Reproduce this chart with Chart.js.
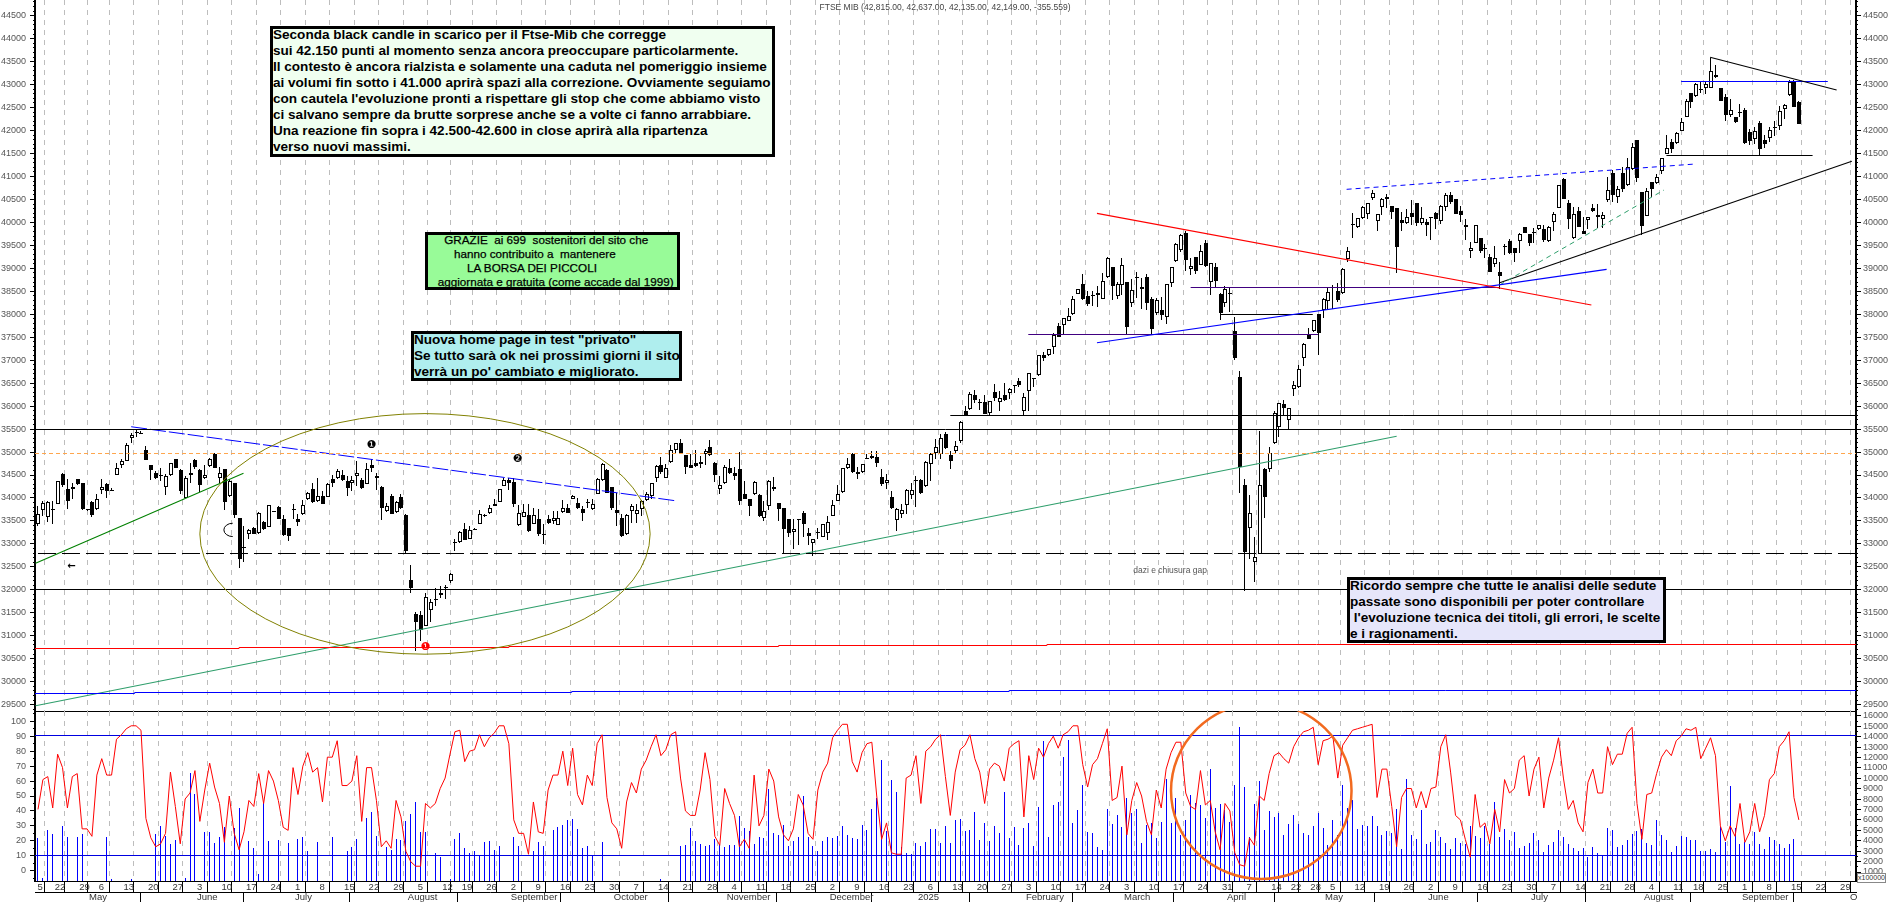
<!DOCTYPE html>
<html lang="it">
<head>
<meta charset="UTF-8">
<title>FTSE MIB</title>
<script src="https://cdn.jsdelivr.net/npm/chart.js"></script>
<style>
  html, body { margin: 0; padding: 0; background: #fff; overflow: hidden; }
  canvas { position: absolute; left: 0; }
  #priceChart { top: 0; }
  #oscChart { top: 711px; }
  .box { position: absolute; box-sizing: border-box; border: 3px solid #000; white-space: pre; color: #000;
         font-family: "Liberation Sans", Arial, sans-serif; font-weight: bold; z-index: 5; overflow: hidden; }
  .box > div { margin-top: -2px; }
  #box1 { left: 270px; top: 26px; width: 505px; height: 131px; background: #f0fff0; font-size: 13.55px; line-height: 16px; }
  #box2 { left: 425px; top: 232px; width: 255px; height: 58px; background: #98fb98; font-size: 11.7px; line-height: 14px; font-weight: normal; -webkit-text-stroke: .25px #000; }
  #box3 { left: 411px; top: 331px; width: 271px; height: 50px; background: #afeeee; font-size: 13.55px; line-height: 16px; }
  #box4 { left: 1347px; top: 577px; width: 319px; height: 66px; background: #e6e6fa; font-size: 13.55px; line-height: 16px; }
  #title { position: absolute; left: 0; width: 1890px; top: 2px; text-align: center; font: 8.5px "Liberation Sans", Arial, sans-serif; color: #444; z-index: 5; }
  #scaleNote { position: absolute; left: 1857px; top: 873px; width: 27px; height: 8px; border: 1px solid #888; background: #fff;
               font: 7px/8px "Liberation Sans", Arial, sans-serif; color: #333; text-align: center; z-index: 5; }
</style>
</head>
<body>
<div id="title">FTSE MIB (42,815.00, 42,637.00, 42,135.00, 42,149.00, -355.559)</div>
<canvas id="priceChart" width="1890" height="713"></canvas>
<canvas id="oscChart" width="1890" height="191"></canvas>
<div class="box" id="box1"><div>Seconda black candle in scarico per il Ftse-Mib che corregge
sui 42.150 punti al momento senza ancora preoccupare particolarmente.
Il contesto è ancora rialzista e solamente una caduta nel pomeriggio insieme
ai volumi fin sotto i 41.000 aprirà spazi alla correzione. Ovviamente seguiamo
con cautela l'evoluzione pronti a rispettare gli stop che come abbiamo visto
ci salvano sempre da brutte sorprese anche se a volte ci fanno arrabbiare.
Una reazione fin sopra i 42.500-42.600 in close aprirà alla ripartenza
verso nuovi massimi.</div></div>
<div class="box" id="box2"><div>     GRAZIE  ai 699  sostenitori del sito che
        hanno contribuito a  mantenere
            LA BORSA DEI PICCOLI
   aggiornata e gratuita (come accade dal 1999)</div></div>
<div class="box" id="box3"><div>Nuova home page in test "privato"
Se tutto sarà ok nei prossimi giorni il sito
verrà un po' cambiato e migliorato.</div></div>
<div class="box" id="box4"><div>Ricordo sempre che tutte le analisi delle sedute
passate sono disponibili per poter controllare
 l'evoluzione tecnica dei titoli, gli errori, le scelte
e i ragionamenti.</div></div>
<div id="scaleNote">x100000</div>

<script>
// candles, one value per trading day (17 Apr 2024 on)
const opens = [
33430,33740,33595,33730,33875,34515,34205,34190,34405,34320,
33745,33915,33770,34175,34300,34175,34500,34720,34805,35310,
35420,35420,35035,34710,34550,34505,34245,34500,34855,34610,
34005,34535,34825,34600,34435,34695,34965,34435,34625,34045,
34320,33570,32920,33225,33355,33230,33485,33375,33710,33810,
33550,33340,33740,33550,33660,33970,34205,33935,34045,34030,
34420,34435,34500,34370,34335,34480,34385,34310,34710,34440,
34245,33720,34045,33705,34030,33625,32210,31470,31450,31220,
31565,31810,31885,32070,32195,33010,33050,33335,33115,33335,
33440,33640,33680,33835,33920,34260,34390,34355,33405,33590,
33625,33435,33550,33210,33535,33500,33415,33695,33790,33985,
33900,33770,33895,33755,34095,34385,34610,34240,33730,33570,
33210,33720,33660,33755,33955,34045,34440,34725,34435,34785,
35045,35190,34930,34710,34770,34730,34950,35115,34770,34205,
34320,34660,34550,34625,34095,33970,34080,34075,33570,33825,
34245,33900,33790,33535,33260,33515,33665,33245,33010,33270,
33160,33245,33610,33940,34130,34655,34955,34560,34565,34855,
34880,34900,34465,34335,34030,33520,33660,33840,34075,34365,
34385,34260,34745,34970,34950,35385,34940,35030,35240,
35894,35930,36242,36060,36090,35843,36300,36097,36242,36280,36445,36547,35901,36322,36583,36678,37113,37106,37295,37745,37766,37861,37999,38441,
38650,38400,38425,38425,38325,38820,39020,38400,38645,38695,38250,38810,38585,38805,38330,38020,38090,37945,38690,39165,39400,39775,38980,39240,39080,39550,38695,39030,38440,38240,38455,
37635,36634,34282,33339,32614,32780,34623,34624,35190,35552,36046,35698,36380,36409,37040,37548,37643,38006,38093,38296,38601,38499,38470,39210,39933,39907,40088,40175,40538,40023,40342,40502,40350,40313,40052,39994,40197,40415,39994,40000,40088,40212,40038,40328,
40589,40510,40248,39893,39385,39559,39668,39443,39240,39095,38913,39472,39588,39436,39588,39893,39748,39777,39849,39856,39603,40016,40321,40945,40415,39661,40256,39806,40053,40314,40125,40082,40488,41076,40546,41069,40807,41163,41787,40655,40147,40880,40858,41112,41489,41743,41721,41997,42288,42810,42759,42883,42919,42933,43158,42919,42723,42346,42295,42385,42440,41961,41823,42164,41794,41831,42077,42106,42462,42767,43064,42614];

const highs = [
33830,33935,33935,33935,34370,34550,34405,34335,34420,34335,
33755,33930,34080,34405,34320,34225,34770,34855,35190,35420,
35480,35455,35130,34710,34585,34645,34515,34770,34855,34625,
34480,34770,34855,34640,34710,34875,34970,34680,34640,34405,
34320,33570,33390,33320,33370,33695,33500,33840,33715,33825,
33625,33340,33860,33645,33955,34130,34335,34440,34155,34320,
34495,34640,34610,34480,34480,34805,34440,34755,34840,34535,
34260,33900,34080,33935,34080,33645,32535,31510,31530,31930,
31795,32050,32075,32100,32360,33115,33285,33465,33390,33355,
33730,33660,33840,33970,34205,34440,34440,34440,33840,33860,
33860,33790,33755,33430,33625,33720,33720,33955,33860,34060,
34005,33825,33970,33970,34440,34755,34625,34245,34115,33645,
33660,33860,33860,33955,34130,34335,34710,34900,34730,35145,
35200,35275,34945,34950,35045,34915,35070,35255,34785,34480,
34710,34840,34680,35000,34370,33985,34370,34080,33935,34385,
34465,33900,33790,33535,33535,33550,33720,33355,33115,33355,
33440,33610,33955,34275,34660,34875,34970,34680,34745,34950,
35020,35020,34625,34515,34150,33790,33860,34190,34320,34480,
34405,34805,34970,35275,35385,35440,35020,35240,35675,
36003,36300,36351,36148,36242,36104,36482,36329,36511,36387,36446,36605,36293,36714,36590,37113,37186,37251,37585,37817,37926,38144,38405,38550,
38870,38515,38515,38615,38890,39240,39020,38710,39215,38695,38760,38915,38780,38875,38370,38345,38385,38660,39035,39545,39745,39810,39215,39240,39510,39615,39125,39110,38455,38615,38585,
37930,36764,34406,34065,33143,35465,34645,35103,35894,36060,36133,35952,36547,36895,37367,37694,37875,38006,38347,38564,38637,38673,39000,39471,40212,40103,40357,40415,40705,40175,40524,40618,40350,40313,40233,40284,40487,40415,40342,40067,40095,40233,40379,40633,
40669,40510,40357,40067,39566,39937,39668,39530,39312,39494,39145,39523,39632,39436,39762,39907,39748,39871,39937,39944,39922,40234,40814,40959,40488,40343,40343,40111,40125,40401,40401,40227,40981,41141,40800,41213,41395,41736,41787,40655,40742,40887,41054,41402,41903,41808,41961,42273,42679,42810,43028,43064,43071,43572,43427,42919,42788,42679,42295,42570,42483,42026,42084,42208,41903,42084,42215,42534,42578,43100,43100,42637];

const lows = [
33400,33610,33480,33430,33860,34245,33770,33970,34275,33740,
33710,33590,33740,34080,34000,34145,34495,34660,34805,35190,
35335,35385,34820,34390,34405,34370,34060,34480,34655,34080,
34005,34320,34625,34130,34420,34680,34645,34335,33740,34030,
33570,32480,32610,33100,33225,33225,33305,33365,33690,33550,
33175,33065,33535,33390,33625,33955,33885,33915,33865,34030,
34245,34420,34365,34045,34155,34260,34190,34295,34565,34175,
33520,33695,33645,33680,33770,32775,31930,30675,30890,31220,
31305,31650,31820,31800,32145,32850,33030,33075,33100,33300,
33430,33595,33660,33815,33915,34255,34175,33805,33390,33575,
33260,33430,33175,32995,33430,33430,33415,33680,33665,33970,
33755,33500,33790,33740,34080,34370,34100,33740,33390,33140,
33190,33450,33450,33610,33935,33985,34350,34515,34435,34770,
34985,34950,34515,34660,34680,34650,34710,34915,34350,34080,
34300,34520,34390,33840,33970,33610,34060,33595,33495,33740,
34155,33500,32790,33140,32885,32980,33140,32980,32740,33115,
33140,33090,33610,33935,34115,34640,34550,34420,34535,34855,
34840,34675,34260,34205,33770,33285,33570,33645,33985,33800,
34080,34245,34370,34840,34855,35075,34625,34970,35190,
35785,35916,36075,35916,35829,35785,36119,35894,36119,36163,36280,36424,35807,35901,36424,36663,36983,37091,37135,37512,37549,37846,37984,38441,
38310,38180,38180,38150,38325,38795,38310,38325,38410,37550,38165,38345,38105,38090,37550,37985,37875,37790,38600,39145,39365,38950,38855,38875,39070,39035,38420,38600,37875,38150,38055,
37004,34101,31982,32679,32178,32780,33557,34573,35175,35335,35806,35502,36220,36401,36880,37454,37621,37113,37911,38107,38107,38274,38441,39145,39653,39871,40067,40067,40487,39820,40161,40306,40067,38891,39813,39965,39943,39922,39943,39704,39617,39849,39965,40255,
40401,40183,40016,39617,39218,39544,39327,39218,38927,39037,38543,39290,39312,39131,39327,39762,39494,39544,39835,39581,39581,39820,40306,40517,39857,39646,39893,39741,39849,40227,39871,39886,40452,40452,40430,40669,40792,41141,40887,39726,40147,40546,40836,41054,41489,41518,41707,41997,42288,42491,42737,42810,42796,42933,43137,42650,42215,42302,42171,42302,41714,41693,41707,41460,41627,41751,41881,42012,42244,42752,42505,42135];

const closes = [
33645,33885,33920,33735,34370,34275,33935,34245,34300,33755,
33730,33625,33985,34245,34155,34155,34660,34805,35160,35370,
35430,35400,34825,34610,34440,34480,34480,34770,34655,34155,
34440,34505,34680,34275,34500,34855,34645,34550,33915,34370,
33630,32665,32925,33305,33225,33680,33320,33840,33695,33550,
33190,33175,33745,33480,33850,34115,33915,34045,33865,34305,
34320,34585,34390,34225,34390,34550,34210,34625,34645,34480,
33790,33825,33660,33920,33775,32850,32035,31305,31130,31835,
31745,31785,31940,32030,32340,33045,33260,33090,33305,33305,
33660,33610,33790,33875,34205,34390,34325,33865,33680,33705,
33285,33625,33210,33190,33465,33570,33570,33790,33680,34045,
33790,33680,33900,33865,34420,34745,34115,33790,33680,33175,
33625,33825,33740,33935,34080,34320,34695,34565,34660,35045,
35200,34970,34680,34660,34695,34790,35030,34940,34495,34290,
34680,34535,34480,33935,33970,33825,34355,33610,33720,34370,
34205,33770,33320,33245,33320,33510,33430,33175,33115,33245,
33430,33480,33840,34095,34645,34745,34565,34520,34745,34860,
34915,34770,34300,34390,33790,33770,33740,34175,34165,34395,
34115,34785,34950,35110,35305,35080,34805,35140,35660,
35807,36257,36133,36070,35829,36105,36184,36170,36133,36366,36445,36460,36206,36714,36590,37106,37055,37237,37549,37512,37911,37970,38325,38543,
38330,38225,38390,38470,38725,39225,38625,38650,39065,37730,38520,38780,38555,38240,37685,38310,37990,38650,39030,39520,39725,39180,39045,38950,39375,39060,39110,38730,38035,38540,38435,
37055,34667,32831,33666,32722,34275,34029,34986,35843,36060,35959,35952,36452,36801,37345,37454,37875,37599,38325,38477,38564,38310,38978,39370,39940,40088,40342,40415,40647,40175,40509,40546,40226,39471,39994,40125,40125,39994,40088,39950,40095,40081,40364,40589,
40451,40183,40161,39937,39436,39937,39385,39428,38927,39218,38840,39479,39327,39327,39740,39777,39559,39770,39937,39617,39907,40176,40807,40517,40081,40176,39907,39755,40125,40256,40169,40154,40698,40596,40720,40727,41213,41634,40974,39922,40691,40735,40996,41402,41620,41591,41939,42179,42650,42621,43006,42890,43006,43303,43216,42650,42346,42440,42193,42378,41736,41780,41983,41605,41707,42005,42048,42433,42563,43064,42505,42149];

// oscillator in the lower panel (left scale)
const oscValues = [
41,61,63,42,78,69,42,63,65,28,28,23,64,75,64,64,88,91,95,97,
97,94,35,22,16,18,25,66,43,18,48,52,67,33,54,72,56,45,19,50,
25,14,26,47,43,65,45,67,60,47,29,27,69,51,70,79,66,69,46,76,
76,87,57,57,60,77,33,69,69,47,16,20,15,47,36,13,6,3,3,45,
42,45,55,62,78,93,94,73,80,81,91,83,89,92,97,97,85,34,25,25,
11,46,26,25,54,64,64,80,57,82,51,44,64,57,85,91,49,32,28,15,
46,59,52,68,74,83,91,77,81,91,93,62,40,37,37,54,79,61,23,17,
55,45,37,16,21,15,64,30,37,68,60,36,24,20,28,51,44,25,21,54,
66,72,89,94,98,98,73,66,79,85,86,50,21,32,12,11,11,62,64,77,
45,80,83,88,91,63,37,66,81,84,91,75,66,45,68,72,70,60,82,85,
87,36,77,61,82,76,85,90,82,91,93,97,97,71,56,71,75,85,95,47,
49,70,24,47,59,50,33,24,54,42,68,79,86,86,52,43,41,67,44,47,
26,14,45,40,12,4,3,22,17,50,47,65,77,79,75,72,83,89,93,94,
96,71,87,88,90,62,84,89,94,95,96,97,98,49,68,68,43,16,49,55,
55,42,53,42,55,56,83,91,66,37,34,21,9,51,29,32,18,41,26,61,
52,55,74,77,50,68,76,42,62,74,89,62,41,47,32,26,59,68,52,52,
83,71,78,78,92,96,45,21,51,52,65,76,81,77,87,90,95,94,96,75,
82,89,77,30,20,30,23,45,19,26,45,26,37,61,65,83,87,93,49,34];

// volume bars in the lower panel (right scale), 0 where no bar is drawn
const volumes = [
4300,390,5040,4650,0,5420,4400,0,4400,4650,
0,0,0,0,4400,300,0,0,0,330,
0,0,0,0,4650,5420,4460,3690,4080,0,
420,10550,8500,0,4880,4880,3760,4400,5360,0,
5200,7190,0,3980,3280,840,7760,3980,0,4080,
0,3820,0,4170,4400,3050,0,3880,0,0,
4400,0,0,3050,3440,4170,0,6220,6800,4460,
0,3440,3120,4170,4080,5940,6580,7760,4850,4850,
0,2830,2470,0,300,4170,4780,3310,2860,3050,
2600,3920,4010,3120,3530,0,0,4400,3530,0,
0,3020,3920,3530,0,5040,5330,5520,6000,6100,
5130,3310,3530,2600,0,3880,0,0,0,0,
0,0,0,0,0,0,0,300,0,0,
0,3530,3600,5260,3980,3690,3530,3630,4170,3720,
3400,3630,3630,6380,5230,4940,3720,4400,4300,9010,
4720,4590,5520,3500,3980,4400,8310,4400,3530,3020,
3980,4400,4300,4460,5420,4560,4300,4170,5520,5040,
7060,8080,11770,4970,9850,8720,3440,2860,2730,3760,
3500,3880,5130,5130,3820,5420,3760,6000,6100,4940,
5040,6770,4080,5680,3980,5420,4780,8690,4300,5330,
3600,5230,5710,3500,7220,13600,4400,7440,7730,12090,
13690,5680,6960,9370,4850,4750,3440,3120,7060,5610,
6480,5360,8080,6640,7060,3760,5520,5680,4300,5840,
9910,5680,8080,4560,6000,8400,7670,7440,6160,10870,
7120,7540,6960,5840,9370,14910,9140,4400,7540,9750,
5040,6870,6260,6640,4560,5610,6480,5610,4720,4560,
5420,6640,5230,3600,6000,4560,9370,7190,7920,5130,
5520,5420,6380,5420,4560,4940,4720,7060,3210,9910,
4560,4170,6960,3690,3880,5040,4370,3790,3210,4270,
3790,3660,5420,4460,4270,5420,3690,7760,4370,5130,
4080,4850,3310,3500,3790,4750,4080,2920,3600,3880,
5040,4370,3690,3310,3020,3310,2470,3400,2790,2540,
5230,5040,3400,3600,4080,4650,4940,5130,3790,3600,
6000,4560,4080,2920,3500,4460,4400,4080,4080,3020,
3020,3210,2920,5360,3880,9270,5230,3690,3880,3690,
4850,3690,3210,4370,4080,3690,3310,3690,4170,0];

// axis ticks and labels
const priceTicks = [44500,44000,43500,43000,42500,42000,41500,41000,40500,40000,39500,39000,38500,38000,37500,37000,36500,36000,35500,35000,34500,34000,33500,33000,32500,32000,31500,31000,30500,30000,29500];
const oscTicks = [100,90,80,70,60,50,40,30,20,10,0];
const volTicks = [16000,15000,14000,13000,12000,11000,10000,9000,8000,7000,6000,5000,4000,3000,2000,1000];
const weekIdx = [-0.5,3,8,12,17,22,27,32,37,42,47,52,57,62,67,72,77,82,86,91,96,101,106,111,116,121,126,131,136,141,146,151,156,161,166,171,176,181,186,191,196,201,206,211,216,221,226,231,236,241,246,251,255,259,263,268,273,278,283,288,293,298,303,308,313,318,323,328,333,337,342,347,352,357,362,367];
const weekLabels = ['5','22','29','6','13','20','27','3','10','17','24','1','8','15','22','29','5','12','19','26','2','9','16','23','30','7','14','21','28','4','11','18','25','2','9','16','23','6','13','20','27','3','10','17','24','3','10','17','24','31','7','14','22','28','5','12','19','26','2','9','16','23','30','7','14','21','28','4','11','18','25','1','8','15','22','29'];
const monthIdx = [10,32,52,75,96,117,140,161,179,201,221,242,262,283,304,327,347,369];
const monthLabels = ['May','June','July','August','September','October','November','December','2025','February','March','April','May','June','July','August','September','O'];

const xMin = -0.61, xMax = 370.65;
const priceMin = 29362, priceMax = 44842;

// drawn trend lines and levels: x in trading days, y in price
const trendLines = [
  {x:[xMin,xMax], y:[35480,35480], color:'#000', snap:true},
  {x:[186,xMax], y:[35785,35785], color:'#000', snap:true},
  {x:[xMin,xMax], y:[34964,34964], color:'#ffa64d', dash:[4,3], snap:true},
  {x:[0,xMax], y:[32790,32790], color:'#000', dash:[18,6], snap:true},
  {x:[xMin,xMax], y:[32008,32008], color:'#000', snap:true},
  {x:[xMin,41,96,151,205.7,315.6,xMax], y:[30703,30725,30747,30769,30783,30805,30805], color:'#ff0000', stepped:'after', snap:true},
  {x:[xMin,19.7,108.8,198,287,xMax], y:[29725,29740,29762,29783,29805,29805], color:'#0000ff', stepped:'after', snap:true},
  {x:[-0.5,41.9], y:[32580,34537], color:'#008000', width:1.1},
  {x:[-0.5,277], y:[29477,35343], color:'#2e9e6b', width:1.1},
  {x:[19,130.3], y:[35551,33935], color:'#0000ff', width:1, dash:[16,3]},
  {x:[215.9,316.7], y:[40197,38202], color:'#ff0000', width:1.1},
  {x:[215.9,319.8], y:[37381,38978], color:'#0000ff', width:1.1},
  {x:[201.9,261], y:[37550,37550], color:'#400080', snap:true},
  {x:[235,297.9], y:[38586,38586], color:'#400080', snap:true},
  {x:[241,259.9], y:[37998,37998], color:'#000', snap:true},
  {x:[266.8,338], y:[40720,41272], color:'#0000ff', width:1, dash:[5,4]},
  {x:[298,331.5], y:[38637,40705], color:'#2e9e6b', width:1, dash:[5,4]},
  {x:[298,369.8], y:[38688,41330], color:'#000', width:1.1},
  {x:[340.9,366.7], y:[43594,42883], color:'#000', width:1.1},
  {x:[335,364.9], y:[43071,43071], color:'#0000ff', snap:true},
  {x:[332,361.8], y:[41460,41460], color:'#000', snap:true}
];
const oscLevels = [90.5, 10.3];

// small marks on the price panel
const priceEllipses = [
  {cx:78.9, cy:33218, rx:45.9, ry:2619, color:'#808000', width:1, from:0, to:Math.PI*2},
  {cx:39.7, cy:33305, rx:1.8, ry:145, color:'#000', width:1, from:Math.PI/2, to:Math.PI*1.5}
];
const oscEllipses = [
  {cx:249.4, cy:53.5, rx:18.4, ry:59, color:'#f26a1f', width:2.5, from:0, to:Math.PI*2}
];
const priceNotes = [
  {text:'❶', x:68, y:35145, color:'#000', font:'11px "DejaVu Sans"'},
  {text:'❷', x:97.8, y:34841, color:'#000', font:'11px "DejaVu Sans"'},
  {text:'❶', x:79, y:30747, color:'#ff0000', font:'11px "DejaVu Sans"'},
  {text:'←', x:6.8, y:32500, color:'#000', font:'bold 10px "DejaVu Sans"'},
  {text:'dazi e chiusura gap', x:230.8, y:32410, color:'#555', font:'8.5px "Liberation Sans"'}
];

const labelFont = {family:'"Liberation Sans", Arial, sans-serif', size:9};

// snap bars and level lines to whole pixels, the original chart is not antialiased
const snapPlugin = {
  id: 'snap',
  beforeDatasetsDraw(chart) {
    chart.data.datasets.forEach((ds, i) => {
      const meta = chart.getDatasetMeta(i);
      if (meta.type === 'bar') {
        meta.data.forEach(el => {
          const cx = Math.floor(el.x);
          el.x = ds.barThickness % 2 ? cx + 0.5 : cx + 1;
          el.y = Math.round(el.y);
          el.base = Math.round(el.base);
          if (el.y === el.base) el.y -= 1;
        });
      } else if (ds.snap) {
        meta.data.forEach(el => { el.y = Math.floor(el.y) + 0.5; });
      }
    });
  }
};

// major and minor tick marks, chart.js only has one tick length
function axisMarks(axes) {
  return {
    id: 'axisMarks',
    afterDraw(chart) {
      const ctx = chart.ctx;
      ctx.save();
      ctx.strokeStyle = '#000';
      ctx.lineWidth = 1;
      axes.forEach(a => {
        const sc = chart.scales[a.id];
        const side = sc.position === 'left' ? -1 : 1;
        const x0 = side < 0 ? sc.right : sc.left;
        for (let v = Math.ceil(sc.min / a.minor) * a.minor; v <= sc.max; v += a.minor) {
          const y = Math.floor(sc.getPixelForValue(v)) + 0.5;
          const len = v % a.major === 0 ? 5 : 2;
          ctx.beginPath();
          ctx.moveTo(x0, y);
          ctx.lineTo(x0 + side * len, y);
          ctx.stroke();
        }
      });
      ctx.restore();
    }
  };
}

function ellipsePlugin(list, yId) {
  return {
    id: 'ellipses',
    afterDatasetsDraw(chart) {
      const ctx = chart.ctx, xs = chart.scales.x, ys = chart.scales[yId], area = chart.chartArea;
      ctx.save();
      ctx.beginPath();
      ctx.rect(area.left, area.top, area.right - area.left, area.bottom - area.top);
      ctx.clip();
      list.forEach(e => {
        const px = xs.getPixelForValue(e.cx), py = ys.getPixelForValue(e.cy);
        const rx = Math.abs(xs.getPixelForValue(e.cx + e.rx) - px);
        const ry = Math.abs(ys.getPixelForValue(e.cy + e.ry) - py);
        ctx.beginPath();
        ctx.ellipse(px, py, rx, ry, 0, e.from, e.to);
        ctx.strokeStyle = e.color;
        ctx.lineWidth = e.width;
        ctx.stroke();
      });
      ctx.restore();
    }
  };
}

const notesPlugin = {
  id: 'notes',
  afterDatasetsDraw(chart) {
    const ctx = chart.ctx;
    ctx.save();
    ctx.textAlign = 'center';
    ctx.textBaseline = 'middle';
    priceNotes.forEach(n => {
      ctx.font = n.font;
      ctx.fillStyle = n.color;
      ctx.fillText(n.text, chart.scales.x.getPixelForValue(n.x), chart.scales.y.getPixelForValue(n.y));
    });
    ctx.restore();
  }
};

function fixedTicks(values) {
  return scale => { scale.ticks = values.map(value => ({value})); };
}

function yAxis(position, min, max, values, width, padding) {
  return {
    position, min, max,
    afterBuildTicks: fixedTicks(values),
    afterFit(scale) { scale.width = width; scale.paddingTop = 0; scale.paddingBottom = 0; },
    grid: {drawOnChartArea:false, drawTicks:false},
    border: {display:true, color:'#000', width:2},
    ticks: {color:'#555', font:labelFont, padding, autoSkip:false, callback:v => String(v)}
  };
}

const wickData = highs.map((h, i) => ({x:i, y:[lows[i], h]}));
const bodyData = opens.map((o, i) => ({x:i, y:[Math.min(o, closes[i]), Math.max(o, closes[i])]}));

const lineSets = trendLines.map(t => ({
  type:'line',
  data:t.x.map((x, i) => ({x, y:t.y[i]})),
  borderColor:t.color,
  borderWidth:t.width || 1,
  borderDash:t.dash || [],
  stepped:t.stepped || false,
  snap:t.snap || false,
  pointRadius:0,
  order:1
}));

new Chart(document.getElementById('priceChart'), {
  type:'bar',
  data:{datasets:[
    {data:wickData, backgroundColor:'#000', barThickness:1, grouped:false, borderWidth:0, inflateAmount:0, order:3},
    {data:bodyData, barThickness:4, grouped:false, inflateAmount:0, borderSkipped:false, borderWidth:1, borderColor:'#000',
     backgroundColor:closes.map((c, i) => c >= opens[i] ? '#fff' : '#000'), order:2},
    ...lineSets
  ]},
  options:{
    responsive:false, animation:false, devicePixelRatio:1, events:[],
    layout:{padding:0, autoPadding:false},
    plugins:{legend:{display:false}, tooltip:{enabled:false}},
    scales:{
      x:{
        type:'linear', min:xMin, max:xMax, offset:false,
        afterBuildTicks:fixedTicks(weekIdx),
        afterFit(scale) { scale.height = 2; scale.paddingLeft = 0; scale.paddingRight = 0; },
        ticks:{display:false, autoSkip:false},
        grid:{color:'#bdbdbd', drawTicks:false},
        border:{display:true, color:'#000', width:1, dash:[5,5]}
      },
      y:yAxis('left', priceMin, priceMax, priceTicks, 35, 9),
      yR:yAxis('right', priceMin, priceMax, priceTicks, 34, 7)
    }
  },
  plugins:[snapPlugin, axisMarks([{id:'y',minor:100,major:500},{id:'yR',minor:100,major:500}]),
           ellipsePlugin(priceEllipses, 'y'), notesPlugin]
});

new Chart(document.getElementById('oscChart'), {
  type:'bar',
  data:{datasets:[
    {data:volumes.map((v, i) => ({x:i, y:v})), yAxisID:'yR', backgroundColor:'#0000ff', barThickness:1, grouped:false, borderWidth:0, inflateAmount:0, order:3},
    ...oscLevels.map(v => ({type:'line', data:[{x:xMin, y:v},{x:xMax, y:v}], borderColor:'#0000e0', borderWidth:1, pointRadius:0, snap:true, order:2})),
    {type:'line', data:oscValues.map((v, i) => ({x:i, y:v})), borderColor:'#ff0000', borderWidth:1, pointRadius:0, tension:0, order:1}
  ]},
  options:{
    responsive:false, animation:false, devicePixelRatio:1, events:[],
    layout:{padding:0, autoPadding:false},
    plugins:{legend:{display:false}, tooltip:{enabled:false}},
    scales:{
      x:{
        type:'linear', min:xMin, max:xMax, offset:false, weight:0,
        afterBuildTicks:fixedTicks(weekIdx),
        afterFit(scale) { scale.height = 11; scale.paddingLeft = 0; scale.paddingRight = 0; },
        grid:{color:'#bdbdbd', tickColor:'#000', tickLength:11, tickBorderDash:[]},
        border:{display:true, color:'#000', width:1, dash:[5,5]},
        ticks:{color:'#333', font:{...labelFont, size:9.5}, padding:-10, align:'start', labelOffset:2, autoSkip:false, maxRotation:0,
               callback:(v, i) => weekLabels[i]}
      },
      xm:{
        type:'linear', axis:'x', position:'bottom', min:xMin, max:xMax, offset:false, weight:1,
        afterBuildTicks:fixedTicks(monthIdx),
        afterFit(scale) { scale.height = 10; scale.paddingLeft = 0; scale.paddingRight = 0; },
        grid:{drawOnChartArea:false, tickColor:'#000', tickLength:10},
        border:{display:true, color:'#000', width:1},
        ticks:{color:'#333', font:{...labelFont, size:9.5}, padding:-10, align:'start', labelOffset:2, autoSkip:false, maxRotation:0,
               callback:(v, i) => monthLabels[i]}
      },
      y:yAxis('left', -6.9, 106.9, oscTicks, 35, 9),
      yR:yAxis('right', 135, 16480, volTicks, 34, 7)
    }
  },
  plugins:[snapPlugin, axisMarks([{id:'y',minor:5,major:10},{id:'yR',minor:500,major:1000}]),
           ellipsePlugin(oscEllipses, 'y')]
});
</script>
</body>
</html>
